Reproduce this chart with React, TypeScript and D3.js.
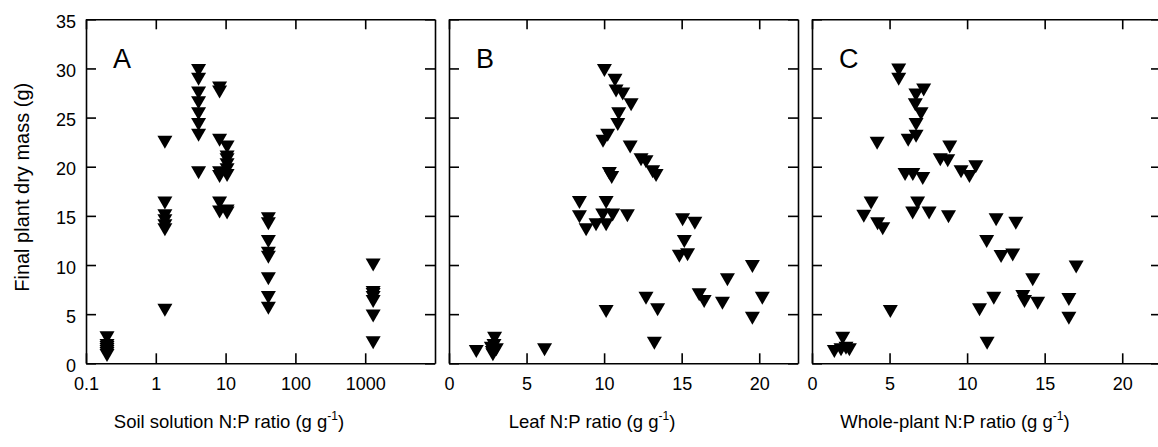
import React, { useRef, useEffect } from 'react';
import * as d3 from 'd3';

// y axis (shared)
const massTicks = [0, 5, 10, 15, 20, 25, 30, 35];

// panel A: soil solution N:P (log axis)
const soilTicks = [0.1, 1, 10, 100, 1000];
const soilTickLabels = ['0.1', '1', '10', '100', '1000'];
const soilNP = [
  0.2, 0.2, 0.2, 0.2, 0.2, 0.2, 0.2,
  1.35, 1.35, 1.35, 1.35, 1.35, 1.35, 1.35,
  4.1, 4.1, 4.1, 4.1, 4.1, 4.1, 4.1, 4.1,
  8.2, 8.2, 8.2, 8.2, 8.2, 8.2, 8.2,
  10.5, 10.5, 10.5, 10.5, 10.5, 10.5, 10.5, 10.5,
  41, 41, 41, 41, 41, 41, 41, 41,
  1300, 1300, 1300, 1300, 1300, 1300, 1300,
];
const soilMass = [
  2.6, 1.8, 1.6, 1.4, 1.2, 1.0, 0.8,
  22.5, 16.3, 15.0, 14.5, 14.0, 13.6, 5.4,
  29.8, 28.9, 27.5, 26.5, 25.4, 24.3, 23.2, 19.4,
  28.0, 27.6, 22.7, 19.4, 19.0, 16.3, 15.4,
  22.0, 21.0, 20.7, 20.2, 19.7, 19.1, 15.5, 15.3,
  14.7, 14.2, 12.4, 11.2, 10.8, 8.6, 6.7, 5.6,
  10.0, 7.2, 7.0, 6.7, 6.3, 4.8, 2.1,
];

// panel B: leaf N:P
const ratioTicks = [0, 5, 10, 15, 20];
const leafNP = [
  10.02, 10.7, 10.77, 11.2, 11.74, 10.94, 10.88, 10.23, 9.93, 11.68,
  12.38, 12.7, 13.13, 13.35, 10.34, 10.49, 8.41, 10.13, 8.41, 9.91,
  10.55, 11.5, 9.48, 10.13, 8.84, 15.06, 15.85, 15.17, 14.85, 15.38,
  16.13, 16.45, 17.95, 17.63, 19.56, 20.2, 19.56, 10.13, 12.7, 13.45,
  13.24, 2.94, 1.76, 2.73, 3.05, 2.83, 6.16, 2.9, 2.8,
];
const leafMass = [
  29.8, 28.8, 27.7, 27.4, 26.3, 25.4, 24.3, 23.2, 22.6, 22.0,
  20.7, 20.5, 19.5, 19.1, 19.3, 18.9, 16.36, 16.36, 14.9, 15.1,
  15.1, 15.0, 14.1, 14.1, 13.6, 14.6, 14.25, 12.4, 10.9, 11.05,
  6.97, 6.29, 8.5, 6.1, 9.85, 6.62, 4.59, 5.27, 6.62, 5.44,
  2.05, 2.55, 1.2, 1.54, 1.37, 0.86, 1.37, 1.8, 1.1,
];

// panel C: whole-plant N:P
const plantNP = [
  5.59, 5.59, 6.7, 7.2, 6.66, 7.03, 6.71, 6.71, 6.2, 4.2,
  8.88, 8.27, 8.75, 9.61, 10.56, 10.15, 6.0, 6.5, 7.14, 3.81,
  3.34, 4.23, 4.56, 6.81, 6.49, 7.55, 8.8, 11.87, 13.14, 11.26,
  12.19, 12.94, 5.05, 10.8, 11.72, 11.29, 1.98, 1.44, 1.87, 2.19,
  2.41, 14.23, 13.59, 13.7, 14.55, 17.03, 16.56, 16.56,
];
const plantMass = [
  29.85, 28.9, 27.3, 27.8, 26.3, 25.4, 24.3, 23.1, 22.7, 22.4,
  22.0, 20.7, 20.6, 19.5, 20.0, 19.0, 19.2, 19.2, 18.8, 16.3,
  14.95, 14.2, 13.7, 16.3, 15.3, 15.3, 14.9, 14.6, 14.25, 12.4,
  10.86, 11.03, 5.27, 5.44, 6.62, 2.05, 2.55, 1.2, 1.37, 1.54,
  1.37, 8.5, 6.8, 6.29, 6.1, 9.8, 6.5, 4.59,
];

const FONT = '"Liberation Sans", Arial, sans-serif';

const App = () => {
  const ref = useRef<SVGSVGElement>(null);

  useEffect(() => {
    const svg = d3.select(ref.current);
    svg.selectAll('*').remove();

    const top = 19.3;
    const plotH = 344;
    const plotW = 349;
    const gap = 14;
    const left0 = 86;

    const y = d3.scaleLinear().domain([0, 35]).range([plotH, 0]);

    const panels = [
      {
        x: d3.scaleLog().domain([0.1, 10000]).range([0, plotW]),
        ticks: soilTicks,
        labels: soilTickLabels,
        xs: soilNP,
        ys: soilMass,
        letter: 'A',
        title: 'Soil solution N:P ratio (g g',
      },
      {
        x: d3.scaleLinear().domain([0, 22.5]).range([0, plotW]),
        ticks: ratioTicks,
        labels: ratioTicks.map(String),
        xs: leafNP,
        ys: leafMass,
        letter: 'B',
        title: 'Leaf N:P ratio (g g',
      },
      {
        x: d3.scaleLinear().domain([0, 22.5]).range([0, plotW]),
        ticks: ratioTicks,
        labels: ratioTicks.map(String),
        xs: plantNP,
        ys: plantMass,
        letter: 'C',
        title: 'Whole-plant N:P ratio (g g',
      },
    ];

    const tri = (cx: number, cy: number) =>
      `M${cx - 7.5},${cy - 6.5}L${cx + 7.5},${cy - 6.5}L${cx},${cy + 6.5}Z`;

    panels.forEach((p, i) => {
      const g = svg
        .append('g')
        .attr('transform', `translate(${left0 + i * (plotW + gap)},${top})`);

      const bottom = g
        .append('g')
        .attr('transform', `translate(0,${plotH})`)
        .call(
          d3
            .axisBottom(p.x as any)
            .tickValues(p.ticks)
            .tickSizeInner(-10)
            .tickSizeOuter(0)
            .tickPadding(14)
            .tickFormat((_d: any, k: number) => p.labels[k])
        );

      g.append('g').call(
        d3
          .axisTop(p.x as any)
          .tickValues(p.ticks)
          .tickSizeInner(-10)
          .tickSizeOuter(0)
          .tickFormat(() => '')
      );

      const leftAx = g.append('g').call(
        d3
          .axisLeft(y)
          .tickValues(massTicks)
          .tickSizeInner(-10)
          .tickSizeOuter(0)
          .tickPadding(10)
          .tickFormat((d: any) => (i === 0 ? String(d) : ''))
      );

      g.append('g')
        .attr('transform', `translate(${plotW},0)`)
        .call(
          d3
            .axisRight(y)
            .tickValues(massTicks)
            .tickSizeInner(-10)
            .tickSizeOuter(0)
            .tickFormat(() => '')
        );

      g.selectAll('.domain, .tick line')
        .attr('stroke', '#000')
        .attr('stroke-width', 1.6);
      g.selectAll('.tick text')
        .attr('font-family', FONT)
        .attr('font-size', 18)
        .attr('fill', '#000');
      leftAx.selectAll('.tick text').attr('dy', '0.45em');
      bottom.selectAll('.tick text').attr('dy', '0.71em');

      g.selectAll('path.mark')
        .data(p.xs.map((v, k) => [v, p.ys[k]]))
        .enter()
        .append('path')
        .attr('class', 'mark')
        .attr('d', (d) => tri(p.x(d[0]) as number, y(d[1])))
        .attr('fill', '#000');

      g.append('text')
        .attr('x', 27)
        .attr('y', 68 - top)
        .attr('font-family', FONT)
        .attr('font-size', 27)
        .text(p.letter);

      const t = g
        .append('text')
        .attr('x', 143)
        .attr('y', 428 - top)
        .attr('text-anchor', 'middle')
        .attr('font-family', FONT)
        .attr('font-size', 18.5);
      t.append('tspan').text(p.title);
      t.append('tspan').attr('font-size', 12).attr('dy', -8).text('-1');
      t.append('tspan').attr('dy', 8).text(')');
    });

    svg
      .append('text')
      .attr('transform', `translate(29,${top + plotH / 2 - 4}) rotate(-90)`)
      .attr('text-anchor', 'middle')
      .attr('font-family', FONT)
      .attr('font-size', 20)
      .text('Final plant dry mass (g)');
  }, []);

  return (
    <svg
      ref={ref}
      width={1158}
      height={447}
      style={{ position: 'absolute', left: 0, top: 0, background: '#fff' }}
    ></svg>
  );
};

export default App;
